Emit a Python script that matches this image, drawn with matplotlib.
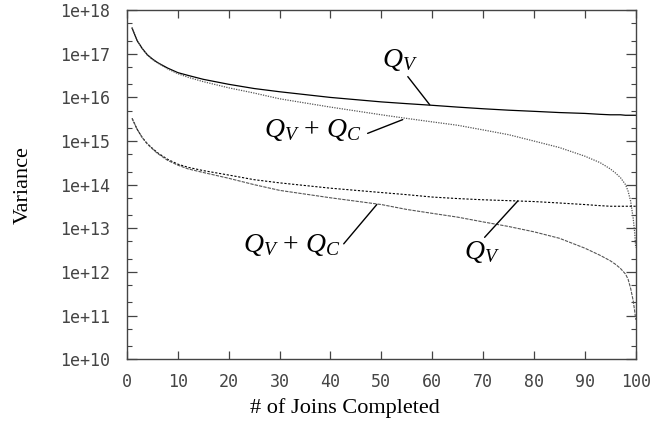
import matplotlib
matplotlib.use("Agg")
import matplotlib.pyplot as plt
from matplotlib.ticker import LogLocator, FuncFormatter, NullFormatter
import numpy as np

joins = [1, 2, 3, 4, 5, 6, 8, 10, 12, 15, 20, 25, 30, 40, 50, 55, 60, 65, 70, 75, 80, 85,
         90, 93, 95, 96, 97, 98, 98.5, 99, 99.5, 99.8, 100]

# upper pair
qv_hi = [3.9e17, 2.0e17, 1.32e17, 9.5e16, 7.6e16, 6.3e16, 4.7e16, 3.7e16, 3.2e16, 2.6e16,
         2.0e16, 1.6e16, 1.35e16, 1.0e16, 7.9e15, 7.2e15, 6.6e15, 6.0e15, 5.5e15, 5.1e15,
         4.8e15, 4.5e15, 4.3e15, 4.1e15, 4.0e15, 4.0e15, 4.0e15, 3.9e15, 3.9e15, 3.9e15,
         3.9e15, 3.9e15, 3.9e15]
qvqc_hi = [3.9e17, 2.0e17, 1.32e17, 9.3e16, 7.4e16, 6.2e16, 4.5e16, 3.5e16, 2.9e16, 2.3e16,
           1.66e16, 1.26e16, 9.3e15, 6.0e15, 4.0e15, 3.3e15, 2.75e15, 2.3e15, 1.8e15, 1.4e15,
           1.0e15, 7.1e14, 4.5e14, 3.2e14, 2.3e14, 1.86e14, 1.45e14, 1.0e14, 7.1e13, 4.2e13,
           1.7e13, 7.9e12, 3.6e12]

# lower pair
qv_lo = [3.3e15, 1.86e15, 1.2e15, 8.7e14, 6.8e14, 5.4e14, 3.8e14, 2.95e14, 2.5e14, 2.1e14,
         1.66e14, 1.3e14, 1.1e14, 8.3e13, 6.6e13, 5.9e13, 5.2e13, 4.8e13, 4.5e13, 4.3e13,
         4.1e13, 3.8e13, 3.5e13, 3.3e13, 3.2e13, 3.2e13, 3.2e13, 3.2e13, 3.2e13, 3.2e13,
         3.2e13, 3.2e13, 3.2e13]
qvqc_lo = [3.3e15, 1.86e15, 1.2e15, 8.5e14, 6.6e14, 5.2e14, 3.6e14, 2.8e14, 2.3e14, 1.9e14,
           1.4e14, 1.0e14, 7.4e13, 5.0e13, 3.5e13, 2.7e13, 2.2e13, 1.8e13, 1.4e13, 1.1e13,
           8.3e12, 5.9e12, 3.5e12, 2.4e12, 1.8e12, 1.5e12, 1.2e12, 8.9e11, 6.8e11, 4.2e11,
           2.2e11, 1.26e11, 8.0e10]

plt.rcParams['mathtext.fontset'] = 'custom'
plt.rcParams['mathtext.rm'] = 'Liberation Serif'
plt.rcParams['mathtext.it'] = 'Liberation Serif:italic'

fig = plt.figure(figsize=(6.72, 4.25), dpi=100)
ax = fig.add_axes([0.189, 0.155, 0.757, 0.821])

ax.plot(joins, qv_hi, color='black', lw=0.9, ls='-')
ax.plot(joins, qvqc_hi, color='#555555', lw=0.9, ls=(0, (1, 1)))
ax.plot(joins, qv_lo, color='black', lw=0.8, ls=(0, (2, 1.5)))
ax.plot(joins, qvqc_lo, color='#555555', lw=0.8, ls=(0, (3, 1)))

ax.set_yscale('log')
ax.set_xlim(0, 100)
ax.set_ylim(1e10, 1e18)
ax.set_xticks(range(0, 101, 10))
ax.yaxis.set_major_locator(LogLocator(base=10, numticks=20))
ax.yaxis.set_minor_locator(LogLocator(base=10, subs=(2, 5), numticks=20))
ax.yaxis.set_major_formatter(FuncFormatter(lambda v, p: '1e+%d' % round(np.log10(v))))
ax.yaxis.set_minor_formatter(NullFormatter())

for s in ax.spines.values():
    s.set_color('#444444')
    s.set_linewidth(1.0)
ax.tick_params(which='both', direction='in', top=True, right=True, color='#444444',
               labelsize=12, labelcolor='#444444')
ax.tick_params(axis='y', which='major', length=7, width=0.9, pad=12)
ax.tick_params(axis='x', which='major', length=6, width=0.9, pad=10)
ax.tick_params(which='minor', length=3.5, width=0.8)
for lab in ax.get_xticklabels() + ax.get_yticklabels():
    lab.set_family('DejaVu Sans Mono')

fig.text(0.513, 0.04, '# of Joins Completed', family='Liberation Serif', fontsize=16,
         ha='center', va='center')
fig.text(0.034, 0.565, 'Variance', family='Liberation Serif', fontsize=16,
         rotation=90, ha='center', va='center')

# curve labels with leader lines
lab_size = 20
line_kw = dict(arrowstyle='-', color='black', lw=1.0, shrinkA=0, shrinkB=0)
ax.text(53.6, 7.6e16, '$Q_V$', fontsize=lab_size, ha='center', va='center')
ax.annotate('', xy=(59.5, 6.8e15), xytext=(55.2, 3.0e16), arrowprops=line_kw)
ax.text(36.5, 1.9e15, r'$Q_V\,+\,Q_C$', fontsize=lab_size, ha='center', va='center')
ax.annotate('', xy=(54.2, 3.1e15), xytext=(47.3, 1.5e15), arrowprops=line_kw)
ax.text(32.5, 4.3e12, r'$Q_V\,+\,Q_C$', fontsize=lab_size, ha='center', va='center')
ax.annotate('', xy=(49.1, 3.5e13), xytext=(42.6, 4.4e12), arrowprops=line_kw)
ax.text(69.7, 3.0e12, '$Q_V$', fontsize=lab_size, ha='center', va='center')
ax.annotate('', xy=(76.8, 4.2e13), xytext=(70.3, 6.2e12), arrowprops=line_kw)

fig.savefig('out.png', dpi=100)
